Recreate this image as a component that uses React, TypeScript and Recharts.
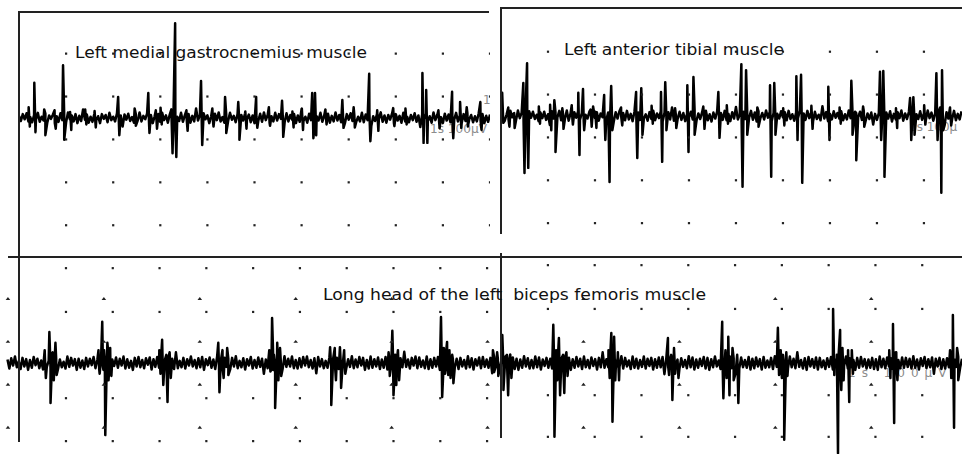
import React from 'react';
import { ComposedChart, Line, Scatter, XAxis, YAxis } from 'recharts';

// ---- Left medial gastrocnemius (top-left): samples every 4 ms, amplitude in µV ----
const TL_NOISE = [
  5, -7, 9, -3, 11, -8, 2, -10, 7, -4, 12, -9, 3, -6, 10, -11, 6, -2, 8, -12,
  4, -9, 11, -5, 7, -10, 13, -3, 6, -8, 9, -12, 5, -7, 20, -4, 8, -11, 3, -9,
  10, -6, 4, -12, 9, -2, 7, -10, 12, -5, 3, -8, 11, -9, 6, -20, 8, -4, 10, -7,
  2, -11, 9, -6, 13, -8, 5, -3, 11, -10, 7, -12, 4, -6, 9, -9, 12, -5, 6, -11,
  8, -4, 10, -13, 3, -7, 12, -9, 6, -2, 9, -11, 5, -8, 22, -6, 7, -10, 11, -3,
  6, -12, 4, -9, 10, -5, 13, -8, 2, -11, 8, -7, 12, -4, 5, -10, 9, -13, 7, -6,
  11, -3, 8, -10, 6, -12, 3, -7, 10, -9, 13, -5, 7, -11, 4, -8, 12, -6, 9, -2,
  5, -10, 11, -8, 7, -4, 9, -12, 6, -9, 21, -7, 3, -11, 10, -5, 8, -13, 4, -6,
  12, -9, 6, -3, 10, -11, 5, -8, 13, -6, 7, -10, 2, -12, 9, -4, 11, -7, 6, -9,
  3, -8, 12, -10, 8, -5, 11, -19, 4, -7, 9, -2, 13, -9, 6, -11, 7, -4, 10, -12,
  9, -6, 5, -11, 12, -8, 3, -10, 7, -5, 11, -9, 6, -21, 8, -3, 10, -7, 4, -11,
  13, -5, 7, -9, 2, -12, 10, -6, 8, -10, 5, -4, 12, -8, 6, -11, 9, -7, 11, -3,
  7, -10, 4, -8, 11, -6, 9, -12, 5, -9, 8,
];
// [time ms, positive peak µV, negative peak µV]
const TL_SPIKES = [
  [32, 82, -33], [53, 20, -40], [93, 123, -51], [108, 14, -28], [210, 49, -40],
  [274, 58, -35], [323, 20, -82], [331, 221, -91], [386, 86, -63], [437, 49, -35],
  [465, 37, -51], [503, 49, -23], [558, 40, -44], [622, 58, -47], [628, 58, -40],
  [686, 42, -23], [743, 103, -54], [794, 23, -19], [856, 105, -58], [864, 65, -58],
  [919, 61, -47], [936, 37, -23], [979, 37, -28],
  // smaller discharges
  [20, 25, -20], [75, 18, -25], [140, 20, -15], [160, 16, -22], [245, 22, -18],
  [290, 18, -25], [300, 24, -15], [355, 18, -30], [410, 22, -20], [480, 15, -25],
  [530, 25, -18], [580, 15, -22], [600, 22, -28], [650, 20, -15], [710, 25, -22],
  [760, 18, -30], [820, 22, -15], [890, 18, -24], [950, 25, -20],
];

// ---- Left anterior tibial (top-right) ----
const TR_NOISE = [
  -6, 9, -11, 4, -8, 12, -3, 7, -10, 13, -5, 8, -12, 6, -9, 11, -4, 10, -7, 3,
  -12, 8, -5, 10, -9, 4, -21, 11, -6, 8, -3, 12, -10, 5, -7, 13, -11, 6, -8, 9,
  -4, 11, -9, 7, -12, 3, -6, 10, -8, 22, -5, 9, -11, 6, -3, 12, -10, 8, -7, 5,
  -13, 9, -6, 11, -4, 7, -10, 12, -8, 5, -12, 10, -3, 8, -9, 13, -6, 4, -11, 9,
  -7, 12, -10, 6, -5, 11, -13, 8, -4, 9, -8, 20, -11, 3, -6, 10, -9, 7, -12, 5,
  -3, 10, -8, 13, -11, 6, -7, 9, -5, 12, -10, 4, -13, 8, -6, 11, -4, 7, -9, 12,
  -10, 5, -12, 9, -6, 21, -8, 3, -11, 10, -7, 6, -4, 12, -9, 8, -13, 11, -5, 7,
  -8, 13, -4, 10, -12, 7, -9, 5, -6, 11, -3, 9, -10, 12, -7, 4, -11, 8, -5, 13,
  -11, 6, -9, 12, -5, 8, -13, 10, -7, 3, -10, 23, -6, 9, -12, 5, -8, 11, -4, 7,
  -6, 11, -10, 4, -8, 13, -5, 9, -12, 7, -3, 10, -9, 12, -11, 6, -7, 8, -20, 5,
  -9, 7, -4, 12, -10, 8, -6, 11, -13, 5, -8, 9, -5, 13, -11, 6, -7, 10, -3, 9,
  -12, 4, -7, 11, -9, 6, -10, 13, -5, 8, -11, 7, -4, 12, -8, 5, -22, 9, -6, 10,
  -7, 12, -10, 5, -8, 11,
];
const TR_SPIKES = [
  [2, 54, -16], [26, 5, -28], [47, 77, -133], [55, 123, -121], [104, 26, -33],
  [113, 37, -84], [164, 54, -91], [174, 63, -33], [200, 10, -28], [219, 49, -56],
  [228, 5, -154], [234, 70, -33], [287, 56, -98], [298, 65, -44], [340, 56, -107],
  [349, 79, -33], [396, 72, -84], [409, 91, -44], [462, 56, -51], [511, 121, -165],
  [521, 107, -44], [572, 72, -142], [581, 77, -44], [628, 93, -56], [638, 96, -156],
  [696, 68, -56], [745, 82, -44], [753, 10, -103], [806, 103, -56], [813, 105, -142],
  [870, 42, -56], [877, 44, -44], [926, 100, -56], [934, 20, -179], [938, 107, -33],
  // smaller discharges
  [15, 20, -25], [80, 22, -18], [130, 18, -30], [150, 25, -20], [190, 15, -25],
  [255, 20, -22], [320, 24, -18], [370, 18, -28], [430, 22, -30], [480, 25, -18],
  [545, 20, -25], [600, 18, -22], [660, 24, -30], [720, 20, -18], [770, 22, -25],
  [840, 18, -28], [900, 25, -20], [955, 20, -22],
];

// ---- Long head of the left biceps femoris (bottom), samples from 16 ms ----
const B_NOISE = [
  8, -13, 11, -6, 15, -10, 4, -14, 12, -8, 9, -16, 7, -11, 14, -5, 10, -12, 6, -15,
  13, -9, 5, -12, 24, -7, 11, -14, 8, -10, 3, -13, 15, -9, 12, -6, 9, -16, 10, -11,
  6, -14, 12, -8, 10, -5, 14, -12, 7, -15, 11, -9, 4, -13, 16, -10, 8, -7, 13, -11,
  10, -6, 15, -13, 9, -11, 5, -16, 12, -8, 14, -10, 7, -12, 11, -4, 13, -15, 9, -9,
  14, -11, 8, -15, 6, -9, 13, -7, 10, -14, 25, -12, 5, -10, 12, -13, 9, -6, 15, -8,
  7, -12, 11, -10, 14, -16, 9, -5, 13, -11, 8, -14, 15, -7, 6, -13, 12, -9, 10, -15,
  12, -8, 16, -12, 5, -10, 11, -15, 9, -6, 14, -13, 7, -11, 13, -9, 10, -25, 8, -12,
  9, -15, 13, -7, 12, -11, 6, -14, 16, -9, 10, -8, 15, -12, 7, -13, 11, -10, 14, -6,
  15, -10, 7, -13, 11, -24, 14, -8, 9, -12, 5, -11, 13, -15, 10, -7, 12, -14, 6, -9,
  11, -13, 9, -9, 16, -12, 8, -10, 14, -6, 12, -16, 7, -13, 15, -11, 9, -8, 13, -14,
  8, -11, 14, -15, 10, -7, 13, -12, 6, -14, 11, -10, 26, -9, 8, -13, 12, -6, 15, -12,
  13, -9, 6, -12, 15, -14, 9, -11, 12, -8, 14, -16, 10, -7, 11, -13, 7, -15, 9, -10,
  10, -14, 12, -8, 7, -13, 16, -10, 11, -15, 9, -6, 13, -12, 14, -9, 8, -11, 12, -24,
  14, -7, 11, -13, 9, -10, 15, -12, 6, -9, 13, -14, 10, -16, 8, -11, 16, -8, 11, -13,
  7, -12, 15, -10, 13, -15, 8, -7, 12, -11, 10, -13, 14, -9, 6, -16, 11, -12, 13, -8,
  12, -16, 9, -11, 14, -8, 10, -14, 15, -10, 7, -12, 13, -7, 9, -15, 12, -10, 25, -11,
  9, -10, 13, -14, 8, -12, 11, -9, 16, -13, 12, -8, 6, -14, 15, -11, 10, -13, 7, -9,
  15, -13, 10, -7, 12, -15, 9, -11, 13, -10, 14, -26, 11, -8, 9, -12, 16, -9, 8, -14,
  11, -9, 7, -12, 16, -10, 13, -15, 8, -11, 10, -7, 14, -13, 12, -16, 9, -10, 15, -8,
  6, -14, 12, -11, 10, -9, 15, -12, 11, -24, 8, -13, 13, -10, 7, -11, 14, -15, 10, -12,
  13, -8, 9, -15, 14, -11, 6, -10, 12, -14, 16, -9, 10, -12, 11, -7, 8, -13, 15, -10,
  10, -12, 25, -9, 7, -13, 11, -16, 14, -8, 9, -11, 13, -15, 12, -10, 6, -14, 11, -9,
  14, -15, 8, -10, 13, -12, 10, -7, 15, -13, 11, -9, 7, -16, 12, -11, 14, -8, 9, -13,
  8, -11, 12, -14, 9, -16, 15, -10, 10, -12, 13, -8, 11, -14, 24, -9, 7, -12, 13, -11,
  12, -9, 10, -13, 16, -11, 8, -15, 11, -7, 14, -12, 9, -10, 13, -25, 10, -8, 12, -14,
  9, -13, 11, -10, 15, -12, 8, -9, 14, -11, 10,
];
const B_SPIKES = [
  [105, 72, -93], [118, 47, -28], [218, 96, -16], [222, 30, -168], [229, 47, -40],
  [346, 54, -51], [355, 19, -91], [466, 47, -68], [485, 35, -28], [581, 105, -16],
  [585, 19, -105], [592, 47, -40], [705, 37, -98], [726, 37, -58], [838, 75, -75],
  [844, 19, -51], [942, 107, -79], [955, 49, -28], [966, 19, -47], [1053, 30, -21],
  [1073, 65, -63], [1083, 19, -75], [1182, 89, -172], [1194, 58, -75], [1203, 19, -70],
  [1306, 70, -137], [1312, 61, -40], [1427, 58, -28], [1434, 19, -86], [1447, 7, -35],
  [1543, 96, -82], [1556, 61, -75], [1575, 19, -93], [1662, 82, -28], [1673, 19, -179],
  [1780, 126, -28], [1788, 19, -210], [1795, 77, -63], [1812, 30, -91], [1908, 91, -140],
  [2036, 112, -151],
  // burst components around the large discharges
  [95, 30, -35], [112, 25, -40], [210, 30, -25], [235, 35, -30], [340, 30, -25],
  [362, 25, -35], [475, 30, -35], [575, 30, -20], [598, 35, -30], [715, 35, -40],
  [735, 30, -25], [830, 25, -30], [850, 30, -40], [948, 35, -25], [960, 30, -35],
  [1062, 25, -30], [1090, 20, -35], [1188, 30, -40], [1210, 25, -30], [1300, 30, -35],
  [1320, 25, -40], [1440, 35, -25], [1550, 30, -35], [1565, 35, -40], [1668, 30, -35],
  [1680, 25, -30], [1800, 35, -40], [1820, 30, -25], [1900, 30, -35], [1915, 25, -40],
  [2030, 30, -35], [2045, 35, -40],
];

// ---- grid dot positions (time ms / µV) ----
const TL_COLS = [100, 200, 300, 400, 500, 600, 700, 800, 900, 1000];
const TOP_ROWS = [150, 50, -50, -150, -250];
const TR_COLS = [100, 200, 300, 400, 500, 600, 700, 800, 900];
const B_LEFT_COLS = [141, 241, 341, 441, 541, 641, 741, 841, 941, 1041];
const B_LEFT_ROWS = [221, 119, -82, -182];
const B_RIGHT_COLS = [1171, 1271, 1371, 1471, 1571, 1671, 1771, 1871, 1971];
const B_RIGHT_ROWS = [228, 126, -75, -172];
const B_TRI_COLS = [17, 222, 427, 632, 837, 1042, 1247, 1452, 1657, 1862];
const B_TRI_ROWS = [150, 50, -50, -150];

const TITLES = {
  tl: 'Left medial gastrocnemius muscle',
  tr: 'Left anterior tibial muscle',
  b: 'Long head of the left  biceps femoris muscle',
};
const SCALE_LABEL = '1s 100µV';
const SCALE_LABEL_CUT = '1s 100µ';

type Pt = { t: number; v: number };

function buildTrace(start: number, dt: number, noise: number[], spikes: number[][]): Pt[] {
  const pts: Pt[] = noise.map((v, i) => ({ t: start + i * dt, v }));
  spikes.forEach(([t, up, down]) => {
    pts.push({ t: t + 0.5, v: up });
    pts.push({ t: t + 3, v: down });
  });
  pts.sort((a, b) => a.t - b.t);
  return pts;
}

function grid(cols: number[], rows: number[]): Pt[] {
  const out: Pt[] = [];
  rows.forEach((v) => cols.forEach((t) => out.push({ t, v })));
  return out;
}

const TL_TRACE = buildTrace(0, 4, TL_NOISE, TL_SPIKES);
const TR_TRACE = buildTrace(0, 4, TR_NOISE, TR_SPIKES);
const B_TRACE = buildTrace(16, 4, B_NOISE, B_SPIKES);

const DotShape = (p: any) => (
  <rect x={p.cx - 1.1} y={p.cy - 1.1} width={2.2} height={2.2} fill="#222" />
);
const TriShape = (p: any) => (
  <path
    d={`M${p.cx - 2.3},${p.cy + 1.3}L${p.cx + 2.3},${p.cy + 1.3}L${p.cx},${p.cy - 1.6}Z`}
    fill="#222"
  />
);

function Panel(props: {
  left: number;
  top: number;
  width: number;
  height: number;
  xDomain: [number, number];
  yDomain: [number, number];
  trace: Pt[];
  dots: Pt[];
  dots2?: Pt[];
  tris?: Pt[];
}) {
  const { left, top, width, height, xDomain, yDomain, trace, dots, dots2, tris } = props;
  return (
    <div style={{ position: 'absolute', left, top, width, height }}>
      <ComposedChart width={width} height={height} margin={{ top: 0, right: 0, bottom: 0, left: 0 }}>
        <XAxis type="number" dataKey="t" domain={xDomain} hide allowDataOverflow />
        <YAxis type="number" dataKey="v" domain={yDomain} hide allowDataOverflow />
        <Scatter data={dots} shape={DotShape} isAnimationActive={false} />
        {dots2 ? <Scatter data={dots2} shape={DotShape} isAnimationActive={false} /> : null}
        {tris ? <Scatter data={tris} shape={TriShape} isAnimationActive={false} /> : null}
        <Line
          data={trace}
          dataKey="v"
          type="linear"
          dot={false}
          activeDot={false}
          stroke="#000"
          strokeWidth={2.5}
          strokeLinejoin="round"
          isAnimationActive={false}
        />
      </ComposedChart>
    </div>
  );
}

const lineStyle = (left: number, top: number, width: number, height: number): React.CSSProperties => ({
  position: 'absolute',
  left,
  top,
  width,
  height,
  background: '#222',
});

export default function App() {
  return (
    <div
      style={{
        position: 'absolute',
        left: 0,
        top: 0,
        width: 962,
        height: 454,
        background: '#fff',
        overflow: 'hidden',
        fontFamily: '"DejaVu Sans", sans-serif',
      }}
    >
      <svg width={962} height={454} style={{ position: 'absolute', left: 0, top: 0 }}>
        <g fill="#8c8c8c" fontFamily='"DejaVu Sans", sans-serif' fontSize={12}>
          <text x={483} y={104}>1</text>
          <text x={430} y={133} textLength={57} lengthAdjust="spacingAndGlyphs">{SCALE_LABEL}</text>
          <text x={909} y={131}>{SCALE_LABEL_CUT}</text>
          <text x={848} y={377} letterSpacing={6}>{SCALE_LABEL}</text>
        </g>
      </svg>

      <Panel
        left={19}
        top={12}
        width={471}
        height={245}
        xDomain={[0, 1000]}
        yDomain={[-324, 247]}
        trace={TL_TRACE}
        dots={grid(TL_COLS, TOP_ROWS)}
      />
      <Panel
        left={501}
        top={8}
        width={461}
        height={249}
        xDomain={[0, 981]}
        yDomain={[-329, 252]}
        trace={TR_TRACE}
        dots={grid(TR_COLS, TOP_ROWS)}
      />
      <Panel
        left={0}
        top={257}
        width={962}
        height={197}
        xDomain={[0, 2056]}
        yDomain={[-212, 247]}
        trace={B_TRACE}
        dots={grid(B_LEFT_COLS, B_LEFT_ROWS)}
        dots2={grid(B_RIGHT_COLS, B_RIGHT_ROWS)}
        tris={grid(B_TRI_COLS, B_TRI_ROWS)}
      />

      <div style={lineStyle(18, 11, 471, 1.6)} />
      <div style={lineStyle(18.4, 11, 1.6, 431)} />
      <div style={lineStyle(500.4, 7.4, 462, 1.6)} />
      <div style={lineStyle(500.4, 7.4, 1.6, 227)} />
      <div style={lineStyle(8, 256, 954, 1.6)} />
      <div style={lineStyle(500.4, 253, 1.6, 185)} />

      <svg width={962} height={454} style={{ position: 'absolute', left: 0, top: 0, pointerEvents: 'none' }}>
        <g fill="#111" fontFamily='"DejaVu Sans", sans-serif' fontSize={16}>
          <text x={75} y={58} textLength={292} lengthAdjust="spacingAndGlyphs">{TITLES.tl}</text>
          <text x={564} y={55} textLength={220} lengthAdjust="spacingAndGlyphs">{TITLES.tr}</text>
          <text x={323} y={300} textLength={383} lengthAdjust="spacingAndGlyphs" style={{ whiteSpace: 'pre' }}>
            {TITLES.b}
          </text>
        </g>
      </svg>
    </div>
  );
}
